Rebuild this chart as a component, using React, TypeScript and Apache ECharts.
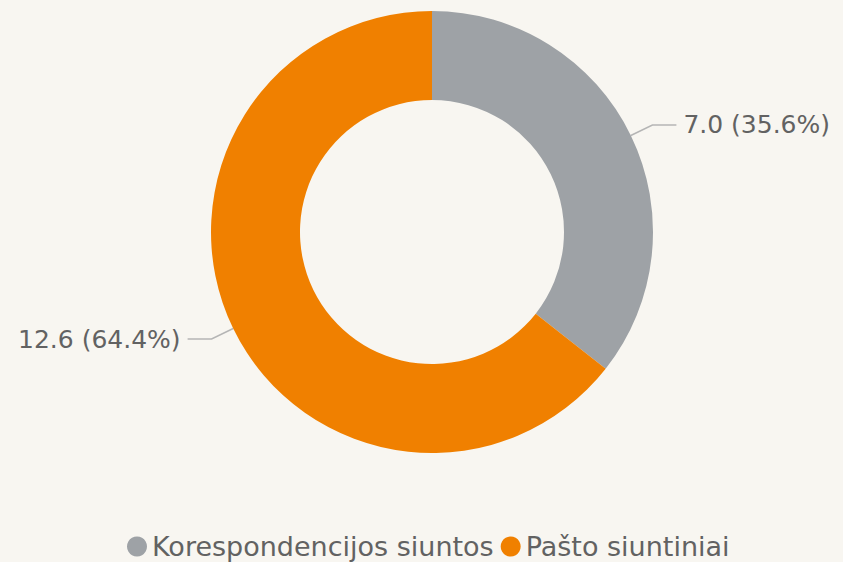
import React, { useEffect, useRef } from "react";
import * as echarts from "echarts";

const categories = ["Korespondencijos siuntos", "Pašto siuntiniai"];
const values = [6.98, 12.62];
const colors = ["#9ea2a6", "#f08000"];

export default function App() {
  const ref = useRef<HTMLDivElement>(null);
  useEffect(() => {
    document.body.style.margin = "0";
    const chart = echarts.init(ref.current!, null, { renderer: "svg" });
    const total = values.reduce((a, b) => a + b, 0);
    chart.setOption({
      animation: false,
      backgroundColor: "#f8f6f1",
      legend: {
        top: 528,
        left: 122,
        itemWidth: 20,
        itemHeight: 20,
        itemGap: 7,
        icon: "circle",
        textStyle: { fontFamily: "DejaVu Sans", fontSize: 27, color: "#626262" },
        data: categories,
      },
      series: [
        {
          type: "pie",
          center: [432, 232],
          radius: [132, 221],
          startAngle: 90,
          clockwise: true,
          color: colors,
          label: {
            show: true,
            fontFamily: "DejaVu Sans",
            fontSize: 25,
            color: "#626262",
            overflow: "none",
            edgeDistance: 0,
            distanceToLabelLine: 7,
            formatter: (p: any) => `${p.value.toFixed(1)} (${((p.value / total) * 100).toFixed(1)}%)`,
          },
          labelLine: { show: true, length: 24, length2: 24, lineStyle: { color: "#b5b5b5", width: 1.5 } },
          emphasis: { disabled: true },
          data: categories.map((c, i) => ({ name: c, value: values[i] })),
        },
      ],
    });
    return () => chart.dispose();
  }, []);
  return <div ref={ref} style={{ width: 843, height: 562 }} />;
}
